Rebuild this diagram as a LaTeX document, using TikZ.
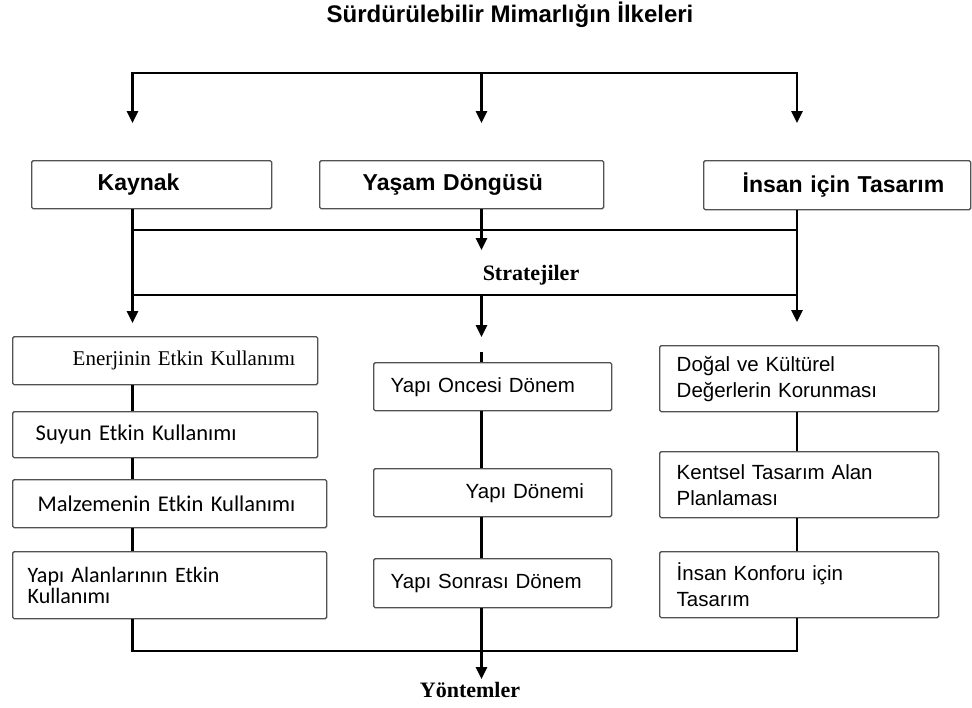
\documentclass[tikz,border=0pt]{standalone}
\usepackage{fontspec}
\setmainfont{Liberation Serif}
\setsansfont{Liberation Sans}
\newfontfamily\cfont{Carlito}
\usetikzlibrary{arrows.meta}

\tikzset{
  wire/.style={line width=2.6pt, draw=black, line join=miter},
  tip/.style={-{Triangle[width=11pt,length=12pt]}},
  arr/.style={wire, tip},
  box/.style={draw=black!68, line width=1.4pt, fill=white, rounded corners=1.5pt,
              inner sep=0pt, align=left, anchor=north west},
  headtxt/.style={font=\sffamily\bfseries\fontsize{23}{27}\selectfont},
  plaintxt/.style={font=\sffamily\fontsize{20.5}{26}\selectfont},
  caltxt/.style={font=\cfont\fontsize{22.5}{27}\selectfont},
  sertxt/.style={font=\rmfamily\fontsize{21}{26}\selectfont},
  steplabel/.style={font=\rmfamily\bfseries\fontsize{22}{26}\selectfont, inner sep=0pt}
}

\begin{document}
\begin{tikzpicture}[x=1pt,y=-1pt]
\fill[white] (0,0) rectangle (972,707);
\useasboundingbox (0,0) rectangle (972,707);

% title
\node[font=\sffamily\bfseries\fontsize{24}{28}\selectfont, inner sep=0pt] (title) at (510,15) {Sürdürülebilir Mimarlığın İlkeleri};

% column guides
\coordinate (xL) at (132.5,0);
\coordinate (xM) at (481.5,0);
\coordinate (xR) at (797,0);

% principles
\node[box, headtxt, text width=240pt, minimum height=48pt] (kaynak) at (31,160)
  {\hspace*{66pt}Kaynak};
\node[box, headtxt, text width=284pt, minimum height=48pt] (yasam) at (319,160)
  {\hspace*{43pt}Yaşam Döngüsü};
\node[box, headtxt, text width=267pt, minimum height=49pt] (insan) at (703,160)
  {\hspace*{39pt}İnsan için Tasarım};

% top distribution
\coordinate (topM) at (481.5,73);
\coordinate (tL) at (132.5,123);
\coordinate (tM) at (481.5,123);
\coordinate (tR) at (797,123);
\draw[wire, {Triangle[width=11pt,length=12pt]}-{Triangle[width=11pt,length=12pt]}]
  (tL) |- (topM) -| (tR);
\draw[arr] (topM) -- (tM);

% strategies band
\coordinate (b2L) at (132.5,230);
\coordinate (b2R) at (797,230);
\coordinate (b3L) at (132.5,295);
\coordinate (b3R) at (797,295);
\coordinate (b3M) at (481.5,295);
\coordinate (aL) at (132.5,323);
\coordinate (aR) at (797,322);
\coordinate (aM1) at (481.5,250);
\coordinate (aM2) at (481.5,337);
\coordinate (gapM) at (481.5,352);
\draw[wire] (b2L) -- (b2R);
\draw[wire] (b3L) -- (b3R);
\draw[arr] (kaynak.south -| xL) -- (aL);
\draw[arr] (insan.south -| xR) -- (aR);
\draw[arr] (yasam.south -| xM) -- (aM1);
\draw[arr] (b3M) -- (aM2);
\node[steplabel] (strat) at (531,275) {Stratejiler};

% resource column
\node[box, sertxt, text width=305pt, minimum height=48pt] (e1) at (12,336)
  {\hspace*{60pt}Enerjinin Etkin Kullanımı};
\node[box, caltxt, text width=305pt, minimum height=46pt] (e2) at (12,411)
  {\hspace*{23pt}Suyun Etkin Kullanımı};
\node[box, caltxt, text width=314pt, minimum height=48pt] (e3) at (12,479)
  {\hspace*{25pt}Malzemenin Etkin Kullanımı};
\node[box, font=\cfont\fontsize{22}{21}\selectfont, text width=314pt, minimum height=67pt] (e4) at (12,551)
  {\hspace*{15pt}Yapı Alanlarının Etkin\\\hspace*{15pt}Kullanımı};

% life cycle column
\node[box, plaintxt, text width=238pt, minimum height=48pt] (m1) at (373,362)
  {\hspace*{17pt}Yapı Oncesi Dönem};
\node[box, plaintxt, text width=238pt, minimum height=48pt] (m2) at (373,468)
  {\hspace*{92pt}Yapı Dönemi};
\node[box, plaintxt, text width=238pt, minimum height=49pt] (m3) at (373,558)
  {\hspace*{17pt}Yapı Sonrası Dönem};

% human design column
\node[box, plaintxt, text width=279pt, minimum height=66pt] (r1) at (659,345)
  {\hspace*{17pt}Doğal ve Kültürel\\\hspace*{17pt}Değerlerin Korunması};
\node[box, plaintxt, text width=279pt, minimum height=66pt] (r2) at (659,451)
  {\hspace*{17pt}Kentsel Tasarım Alan\\\hspace*{17pt}Planlaması};
\node[box, plaintxt, text width=279pt, minimum height=66pt] (r3) at (659,551)
  {\hspace*{17pt}İnsan Konforu için\\\hspace*{17pt}Tasarım};

% links inside the columns
\draw[wire] (e1.south -| xL) -- (e2.north -| xL);
\draw[wire] (e2.south -| xL) -- (e3.north -| xL);
\draw[wire] (e3.south -| xL) -- (e4.north -| xL);
\draw[wire] (gapM) -- (m1.north -| xM);
\draw[wire] (m1.south -| xM) -- (m2.north -| xM);
\draw[wire] (m2.south -| xM) -- (m3.north -| xM);
\draw[wire] (r1.south -| xR) -- (r2.north -| xR);
\draw[wire] (r2.south -| xR) -- (r3.north -| xR);

% methods
\coordinate (botL) at (132.5,651);
\coordinate (botR) at (797,651);
\coordinate (aM3) at (481.5,679);
\draw[wire] (e4.south -| xL) -- (botL) -- (botR) -- (r3.south -| xR);
\draw[arr] (m3.south -| xM) -- (aM3);
\node[steplabel] (yont) at (470,690) {Yöntemler};
\end{tikzpicture}
\end{document}
